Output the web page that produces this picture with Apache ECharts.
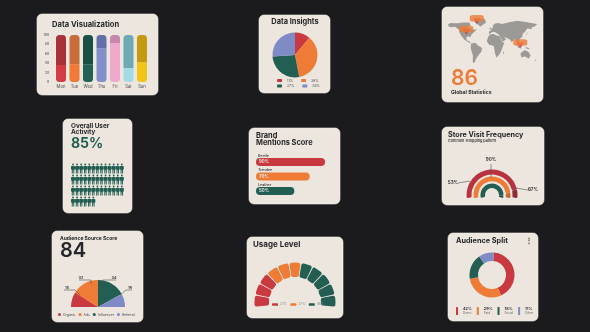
<!DOCTYPE html>
<html>
<head>
<meta charset="utf-8">
<style>
html, body { margin: 0; padding: 0; background: #1b1a1c; }
#main { width: 590px; height: 332px; }
</style>
<script src="https://cdn.jsdelivr.net/npm/echarts@6/dist/echarts.min.js"></script>
</head>
<body>
<div id="main"></div>
<script>
var RED = '#c9393f', DARKRED = '#8f2c33', ORANGE = '#ee7b36', GREEN = '#225e52', BLUE = '#7f8bc6', INK = '#26262a';
var FONT = 'Inter';

// weekly bars
var days = ['Mon', 'Tue', 'Wed', 'Thu', 'Fri', 'Sat', 'Sun'];
var weekLower = [36, 38, 38, 72, 83, 30, 42];
var weekUpper = [64, 62, 62, 28, 17, 70, 58];
var lowerColors = ['#d13c45', '#f07a36', '#226355', '#8290ca', '#eeaacb', '#a3dbe5', '#f0c517'];
var upperColors = ['#a8323a', '#c96c3c', '#194f44', '#646ea8', '#c886ad', '#6eaab4', '#c49b10'];

// data insights pie
var insightNames = ['Direct', 'Search', 'Social', 'Email'];
var insightValues = [11, 36, 27, 26];

// person rows
var personRows = ['a', 'b', 'c', 'd'];
var personCounts = [12, 12, 12, 5];

// brand mentions
var brandNames = ['Beetle', 'Trendee', 'Leather'];
var brandValues = [90, 70, 50];

// store visit arcs
var visitValues = [90, 92, 94];
var visitLabels = ['90%', '67%', '53%'];

// audience source
var sourceNames = ['Organic', 'Ads', 'Influencer', 'Referral'];
var sourceValues = [18, 32, 34, 16];

// usage level, one entry per block
var usageBlocks = ['Low', 'Low', 'Low', 'Mid', 'Mid', 'Mid', 'High', 'High', 'High', 'High', 'High'];
var usageLegend = ['Low', 'Mid', 'High'];
var usageText = { Low: '27%', Mid: '27%', High: '46%' };

// audience split
var splitNames = ['Direct share', 'Paid share', 'Social share', 'Other share'];
var splitLabels = ['Direct', 'Paid', 'Social', 'Other'];
var splitValues = [42, 29, 18, 11];

// callouts on the map, lon / lat
var mapPins = [[-56, 85], [-97, 52], [113, 11]];

// rough continents, lon / lat
var continents = {
    na: [[-168, 65], [-160, 71], [-130, 70], [-110, 72], [-85, 72], [-80, 64], [-93, 58], [-80, 52], [-66, 50], [-55, 52], [-65, 44], [-76, 36], [-81, 27], [-90, 30], [-97, 26], [-95, 18], [-85, 15], [-78, 8], [-85, 10], [-105, 20], [-117, 32], [-124, 42], [-125, 50], [-140, 59], [-155, 58], [-165, 60]],
    gl: [[-55, 82], [-25, 83], [-20, 72], [-42, 60], [-52, 66], [-68, 76]],
    sa: [[-78, 8], [-62, 10], [-50, 1], [-35, -6], [-39, -18], [-48, -26], [-58, -38], [-66, -52], [-72, -50], [-71, -30], [-80, -6]],
    eu: [[-9, 37], [-9, 44], [-2, 48], [-5, 50], [2, 54], [8, 58], [5, 62], [15, 69], [27, 71], [42, 68], [70, 73], [100, 78], [140, 73], [178, 68], [170, 60], [156, 58], [160, 52], [140, 54], [130, 42], [122, 38], [122, 30], [110, 20], [108, 12], [103, 2], [98, 14], [92, 22], [80, 12], [72, 20], [60, 25], [50, 28], [58, 20], [44, 13], [35, 30], [27, 37], [20, 40], [12, 44], [3, 42]],
    af: [[-17, 15], [-12, 28], [-5, 36], [10, 37], [20, 32], [33, 31], [43, 12], [51, 11], [40, -12], [34, -24], [20, -35], [14, -20], [10, 0], [-8, 4]],
    au: [[114, -22], [130, -12], [140, -16], [146, -19], [153, -28], [146, -39], [132, -32], [116, -34]],
    id1: [[96, 5], [106, -5], [118, -8], [110, -3], [104, 1]],
    id2: [[110, 2], [118, 6], [118, -2], [112, -3]],
    pg: [[132, -2], [146, -6], [150, -10], [138, -8]],
    jp: [[131, 32], [140, 36], [142, 43], [139, 38]],
    uk: [[-6, 50], [1, 52], [-3, 58], [-7, 55]],
    nz: [[168, -46], [176, -38], [178, -40], [172, -46]],
    mg: [[44, -24], [50, -15], [49, -24]]
};

var features = [];
for (var key in continents) {
    var ring = continents[key].concat([continents[key][0]]);
    features.push({
        type: 'Feature',
        properties: { name: key },
        geometry: { type: 'Polygon', coordinates: [ring] }
    });
}
echarts.registerMap('world', { type: 'FeatureCollection', features: features });

var cards = [
    [37, 14, 121, 81], [259, 15, 71, 78], [442, 7, 101, 95],
    [63, 119, 69, 94], [249, 128, 91, 76], [442, 127, 102, 78],
    [52, 231, 91, 91], [247, 237, 96, 81], [448, 233, 90, 88]
];

function txt(text, x, y, size, color, weight, align) {
    return {
        type: 'text',
        z: 20,
        silent: true,
        x: x,
        y: y,
        style: {
            text: text,
            fill: color || INK,
            font: (weight || 700) + ' ' + size + 'px ' + FONT,
            textAlign: align || 'left',
            textVerticalAlign: 'middle'
        }
    };
}

function leader(points) {
    return {
        type: 'polyline',
        z: 20,
        silent: true,
        shape: { points: points },
        style: { stroke: '#55524f', lineWidth: 0.6, fill: null }
    };
}

var graphics = cards.map(function (c) {
    return {
        type: 'rect',
        z: 0,
        silent: true,
        shape: { x: c[0], y: c[1], width: c[2], height: c[3], r: 5 },
        style: { fill: '#ece6de', stroke: '#f5f1ec', lineWidth: 0.6 }
    };
});

graphics.push(
    txt('Data Visualization', 52, 25, 7.6),
    txt('Data Insights', 295, 22, 7.4, INK, 700, 'center'),
    txt('86', 451, 79, 21, ORANGE, 600),
    txt('Global Statistics', 451, 92, 5.1),
    txt('Overall User', 71, 126, 6.4),
    txt('Activity', 71, 132.5, 6.4),
    txt('85%', 71, 144, 14, GREEN, 700),
    txt('Brand', 256, 136, 7.4),
    txt('Mentions Score', 256, 143, 7.4),
    txt('Store Visit Frequency', 448, 134.5, 7.2),
    txt('Common shopping pattern', 448, 141, 3.8, INK, 500),
    txt(visitLabels[0], 491, 160, 4.6, INK, 600, 'center'),
    txt(visitLabels[1], 533, 190, 4.6, INK, 600, 'center'),
    txt(visitLabels[2], 453, 183, 4.6, INK, 600, 'center'),
    leader([[491, 164], [491, 178]]),
    leader([[458, 183], [470, 181]]),
    leader([[528, 190], [516, 188]]),
    txt('Audience Source Score', 60, 238, 5),
    txt('84', 60, 251, 20, INK, 600),
    txt(String(sourceValues[0]), 67, 287.5, 4, INK, 500, 'center'),
    txt(String(sourceValues[1]), 81, 277.5, 4, INK, 500, 'center'),
    txt(String(sourceValues[2]), 114, 277.5, 4, INK, 500, 'center'),
    txt(String(sourceValues[3]), 130, 287.5, 4, INK, 500, 'center'),
    leader([[64, 290], [75, 290], [80, 295]]),
    leader([[79, 280], [91, 280], [91, 284]]),
    leader([[103, 284], [103, 280], [116, 280]]),
    leader([[120, 295], [126, 290], [132, 290]]),
    txt('Usage Level', 253, 245, 8),
    txt('Audience Split', 456, 241, 7.3),
    txt('\u22EE', 529, 241, 8, '#55524f', 700, 'center')
);
brandNames.forEach(function (name, i) {
    graphics.push(txt(name, 258, 155.5 + i * 14.5, 3.6, INK, 500));
});

var personPath = 'path://M5,0a2,2 0 1,1 -0.01,0zM2,4.6h6a1.4,1.4 0 0,1 1.4,1.4v5.4h-1.7v7.6h-2.1v-6h-1.2v6h-2.1v-7.6h-1.7v-5.4a1.4,1.4 0 0,1 1.4,-1.4z';

function visitArc(i, radius, spread, color, restColor) {
    return {
        type: 'pie',
        center: [492, 195],
        radius: radius,
        startAngle: 180 + spread,
        endAngle: -spread,
        silent: true,
        label: { show: false },
        itemStyle: { borderRadius: 1 },
        data: [
            { name: 'arc' + i, value: visitValues[i], itemStyle: { color: color } },
            { name: 'rest' + i, value: 100 - visitValues[i], itemStyle: { color: restColor } }
        ]
    };
}

function insightLegend(names, top) {
    return {
        data: names,
        left: 277,
        top: top,
        padding: 0,
        itemWidth: 5,
        itemHeight: 3,
        itemGap: 8,
        icon: 'roundRect',
        formatter: function (name) {
            return insightValues[insightNames.indexOf(name)] + '%';
        },
        textStyle: { fontSize: 3.4, color: '#4b4a48', width: 12, padding: 0 }
    };
}

var option = {
    backgroundColor: '#1b1a1c',
    animation: false,
    textStyle: { fontFamily: FONT },
    graphic: { elements: graphics },
    grid: [
        { left: 54.25, top: 35, width: 94.5, height: 47 },
        { left: 71, top: 163, width: 52.8, height: 44 },
        { left: 256, top: 154.75, width: 76.7, height: 43.5 }
    ],
    xAxis: [
        {
            gridIndex: 0,
            type: 'category',
            data: days,
            axisLine: { show: false },
            axisTick: { show: false },
            axisLabel: { fontSize: 4.2, color: '#4b4a48', margin: 3 }
        },
        { gridIndex: 1, type: 'value', min: 0, max: 12, show: false },
        { gridIndex: 2, type: 'value', min: 0, max: 100, show: false }
    ],
    yAxis: [
        {
            gridIndex: 0,
            type: 'value',
            min: 0,
            max: 100,
            interval: 20,
            splitLine: { show: false },
            axisLabel: { fontSize: 3.6, color: '#4b4a48', margin: 5 }
        },
        { gridIndex: 1, type: 'category', inverse: true, data: personRows, show: false },
        { gridIndex: 2, type: 'category', inverse: true, data: brandNames, show: false }
    ],
    geo: {
        map: 'world',
        silent: true,
        left: 448,
        top: 19,
        width: 89,
        height: 44,
        aspectScale: 0.82,
        itemStyle: { areaColor: '#9c9a97', borderWidth: 0 },
        label: { show: false }
    },
    legend: [
        insightLegend(insightNames.slice(0, 2), 79),
        insightLegend(insightNames.slice(2), 84.5),
        {
            data: sourceNames,
            left: 58,
            top: 313,
            padding: 0,
            itemWidth: 3,
            itemHeight: 3,
            itemGap: 3,
            icon: 'circle',
            textStyle: { fontSize: 3.4, color: '#4b4a48', padding: [0, 0, 0, -3] }
        },
        {
            data: usageLegend,
            left: 272,
            top: 303,
            padding: 0,
            itemWidth: 6,
            itemHeight: 2.5,
            itemGap: 3.5,
            formatter: function (name) { return usageText[name]; },
            textStyle: { fontSize: 3.2, color: '#8a8784', padding: [0, 0, 0, -3] }
        },
        {
            data: splitNames,
            left: 456,
            top: 307,
            padding: 0,
            itemWidth: 2,
            itemHeight: 8,
            itemGap: 5,
            formatter: function (name) {
                var i = splitNames.indexOf(name);
                return '{v|' + splitValues[i] + '%}\n{n|' + splitLabels[i] + '}';
            },
            textStyle: {
                width: 12,
                rich: {
                    v: { fontSize: 3.8, fontWeight: 700, color: '#33322f', lineHeight: 4.5 },
                    n: { fontSize: 3, color: '#6b6865', lineHeight: 4 }
                }
            }
        }
    ],
    series: [
        {
            type: 'bar',
            stack: 'week',
            xAxisIndex: 0,
            yAxisIndex: 0,
            barWidth: 10,
            silent: true,
            data: weekLower.map(function (v, i) {
                return { value: v, itemStyle: { color: lowerColors[i], borderRadius: [0, 0, 3.5, 3.5] } };
            })
        },
        {
            type: 'bar',
            stack: 'week',
            xAxisIndex: 0,
            yAxisIndex: 0,
            barWidth: 10,
            silent: true,
            data: weekUpper.map(function (v, i) {
                return { value: v, itemStyle: { color: upperColors[i], borderRadius: [3.5, 3.5, 0, 0] } };
            })
        },
        {
            type: 'pie',
            center: [295, 55],
            radius: [0, 22.5],
            startAngle: 90,
            silent: true,
            label: { show: false },
            color: [RED, ORANGE, GREEN, BLUE],
            data: insightNames.map(function (n, i) { return { name: n, value: insightValues[i] }; })
        },
        {
            type: 'scatter',
            coordinateSystem: 'geo',
            symbol: 'triangle',
            symbolRotate: 180,
            symbolSize: [7, 6],
            symbolOffset: [0, 3],
            silent: true,
            itemStyle: { color: '#c9393f' },
            data: mapPins,
            z: 3
        },
        {
            type: 'scatter',
            coordinateSystem: 'geo',
            symbol: 'roundRect',
            symbolSize: [14, 6.5],
            silent: true,
            itemStyle: { color: ORANGE },
            data: mapPins,
            z: 4
        },
        {
            type: 'pictorialBar',
            xAxisIndex: 1,
            yAxisIndex: 1,
            symbol: personPath,
            symbolRepeat: true,
            symbolSize: [4, 10],
            symbolMargin: 0.2,
            symbolPosition: 'start',
            silent: true,
            itemStyle: { color: GREEN },
            data: personCounts
        },
        {
            type: 'bar',
            xAxisIndex: 2,
            yAxisIndex: 2,
            barWidth: 8,
            silent: true,
            data: brandValues.map(function (v, i) {
                return { value: v, itemStyle: { color: [RED, ORANGE, GREEN][i], borderRadius: 4 } };
            }),
            label: {
                show: true,
                position: 'insideLeft',
                distance: 3,
                formatter: '{c}%',
                fontSize: 4.4,
                fontWeight: 600,
                color: '#f3ece4'
            }
        },
        visitArc(0, [20.5, 25.5], 7, '#b8333f', DARKRED),
        visitArc(1, [13.8, 18.5], 9.5, ORANGE, '#c96a30'),
        visitArc(2, [7, 11.5], 15, GREEN, '#194a40'),
        {
            type: 'pie',
            center: [98, 307],
            radius: [0, 27],
            startAngle: 180,
            endAngle: 0,
            silent: true,
            color: [RED, ORANGE, GREEN, BLUE],
            label: { show: false },
            data: sourceNames.map(function (n, i) { return { name: n, value: sourceValues[i] }; })
        },
        {
            type: 'pie',
            center: [295, 303],
            radius: [26, 40.5],
            startAngle: 186,
            endAngle: -6,
            padAngle: 1.5,
            silent: true,
            label: { show: false },
            itemStyle: { borderRadius: 2 },
            data: usageBlocks.map(function (name, i) {
                return {
                    name: name,
                    value: 1,
                    itemStyle: { color: name === 'Low' ? RED : name === 'Mid' ? ORANGE : GREEN }
                };
            })
        },
        {
            type: 'pie',
            center: [492, 275],
            radius: [14, 22.5],
            startAngle: 85,
            silent: true,
            label: { show: false },
            color: [RED, ORANGE, GREEN, BLUE],
            data: splitNames.map(function (n, i) { return { name: n, value: splitValues[i] }; })
        }
    ]
};

var myChart = echarts.init(document.getElementById('main'));
myChart.setOption(option);
</script>
</body>
</html>
